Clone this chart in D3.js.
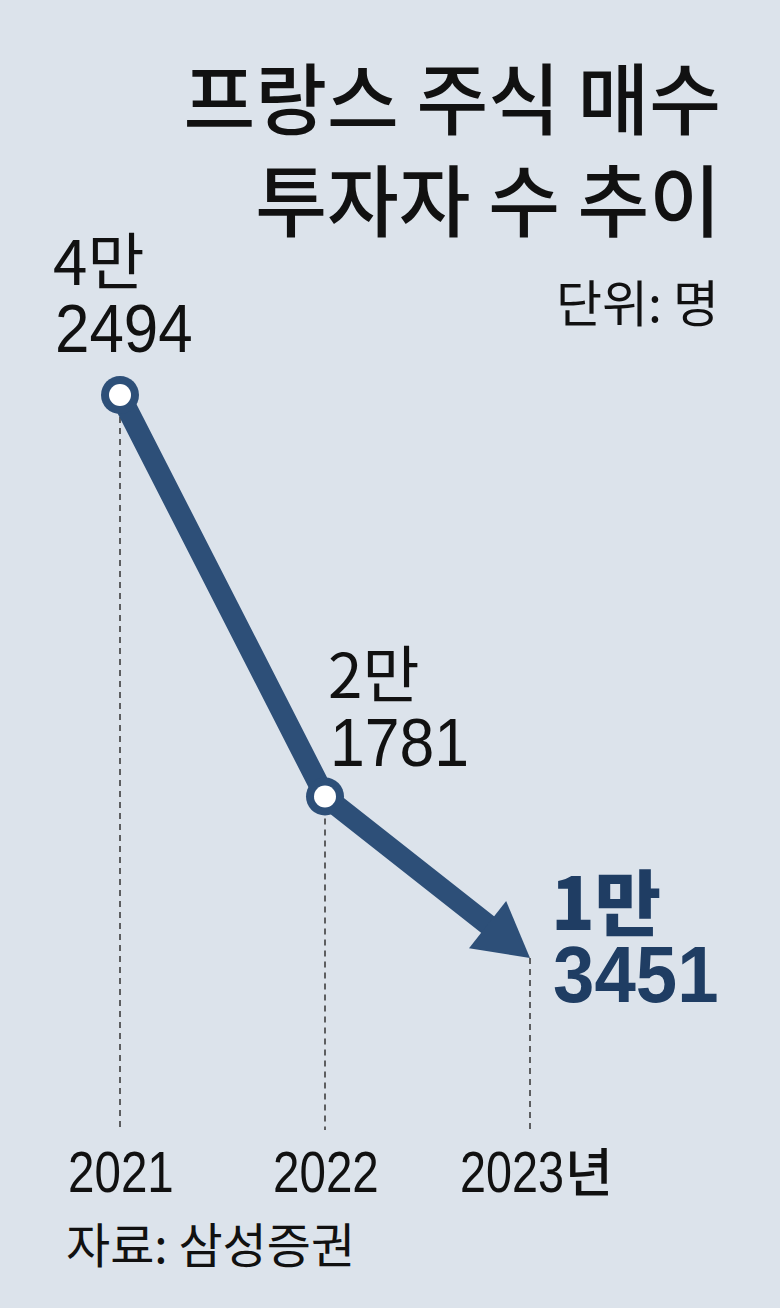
<!DOCTYPE html>
<html>
<head>
<meta charset="utf-8">
<script src="https://cdn.jsdelivr.net/npm/d3@7"></script>
<style>
  html, body { margin: 0; padding: 0; background: #dce3eb; }
  text { font-family: "Liberation Sans", "Noto Sans CJK KR", sans-serif; }
</style>
</head>
<body>
<div id="chart"></div>
<script>
// data
var years = ["2021", "2022", "2023"];
var values = [42494, 21781, 13451];
var topLabels = ["4만", "2만", "1만"];
var bottomLabels = ["2494", "1781", "3451"];
var yearLabels = ["2021", "2022", "2023"];

var width = 780, height = 1308;
var lineColor = "#2d4f78";
var kr = "'Noto Sans CJK KR', sans-serif";

var svg = d3.select("#chart")
    .append("svg")
    .attr("width", width)
    .attr("height", height);

svg.append("rect").attr("width", width).attr("height", height).attr("fill", "#dce3eb");

var x = d3.scalePoint().domain(years).range([120, 530]);
var y = d3.scaleLinear().domain([13451, 42494]).range([958, 395]);
var baseY = 1130;

// Title
var title = svg.append("text")
    .attr("text-anchor", "end")
    .style("font-family", kr)
    .style("font-weight", "500")
    .style("font-size", "78px")
    .attr("fill", "#111");
title.append("tspan").attr("x", 721).attr("y", 129).text("프랑스 주식 매수");
title.append("tspan").attr("x", 721).attr("y", 231).text("투자자 수 추이");

svg.append("text")
    .attr("x", 719).attr("y", 322)
    .attr("text-anchor", "end")
    .style("font-family", kr)
    .style("font-size", "50px")
    .attr("fill", "#111")
    .text("단위: 명");

// dashed guides
svg.selectAll("line.guide")
    .data(years)
    .enter().append("line")
    .attr("class", "guide")
    .attr("x1", d => x(d)).attr("x2", d => x(d))
    .attr("y1", (d, i) => y(values[i]))
    .attr("y2", baseY)
    .attr("stroke", "#333")
    .attr("stroke-width", 1.5)
    .attr("stroke-dasharray", "6,5");

// line with arrow
var pts = years.map((d, i) => [x(d), y(values[i])]);
var tip = pts[2], prev = pts[1];
var dx = tip[0] - prev[0], dy = tip[1] - prev[1];
var len = Math.sqrt(dx * dx + dy * dy);
var ux = dx / len, uy = dy / len;
var headLen = 54, headHalf = 30;
var baseX = tip[0] - ux * headLen, baseYp = tip[1] - uy * headLen;

svg.append("path")
    .datum([pts[0], pts[1], [baseX + ux * 4, baseYp + uy * 4]])
    .attr("d", d3.line())
    .attr("fill", "none")
    .attr("stroke", lineColor)
    .attr("stroke-width", 21)
    .attr("stroke-linejoin", "round");

svg.append("path")
    .attr("d", d3.line()([
        tip,
        [baseX - uy * headHalf, baseYp + ux * headHalf],
        [baseX + uy * headHalf, baseYp - ux * headHalf]
    ]) + "Z")
    .attr("fill", lineColor);

// point markers
svg.selectAll("circle.outer")
    .data(pts.slice(0, 2))
    .enter().append("circle")
    .attr("cx", d => d[0]).attr("cy", d => d[1])
    .attr("r", 19)
    .attr("fill", lineColor);
svg.selectAll("circle.inner")
    .data(pts.slice(0, 2))
    .enter().append("circle")
    .attr("cx", d => d[0]).attr("cy", d => d[1])
    .attr("r", 11)
    .attr("fill", "#fff");

// value labels
var labelPos = [[55, 285, 352], [330, 698, 766], [553, 930, 1002]];
var numScale = [0.91, 0.92, 0.93];
topLabels.forEach(function(t, i) {
  var last = i === 2;
  svg.append("text")
      .attr("x", labelPos[i][0] - 2).attr("y", labelPos[i][1])
      .attr("fill", last ? "#1f3d63" : "#111")
      .style("font-family", kr)
      .style("font-weight", last ? "900" : "400")
      .style("font-size", last ? "72px" : "62px")
      .text(t);
  svg.append("text")
      .attr("transform", "translate(" + labelPos[i][0] + "," + labelPos[i][2] + ") scale(" + numScale[i] + ",1)")
      .attr("fill", last ? "#1f3d63" : "#111")
      .style("font-weight", last ? "700" : "400")
      .style("font-size", last ? "80px" : "68px")
      .text(bottomLabels[i]);
});

// year labels
svg.selectAll("text.year")
    .data(years)
    .enter().append("text")
    .attr("class", "year")
    .attr("transform", (d, i) => "translate(" + (i === 2 ? x(d) - 70 : x(d) - 52) + ",1192) scale(0.82,1)")
    .style("font-size", (d, i) => i === 2 ? "57px" : "58px")
    .attr("fill", "#111")
    .text((d, i) => yearLabels[i]);
svg.append("text")
    .attr("x", x("2023") + 35).attr("y", 1192)
    .style("font-family", kr)
    .style("font-weight", "500")
    .style("font-size", "52px")
    .attr("fill", "#111")
    .text("년");

svg.append("text")
    .attr("x", 66).attr("y", 1263)
    .style("font-family", kr)
    .style("font-size", "48px")
    .attr("fill", "#111")
    .text("자료: 삼성증권");
</script>
</body>
</html>
